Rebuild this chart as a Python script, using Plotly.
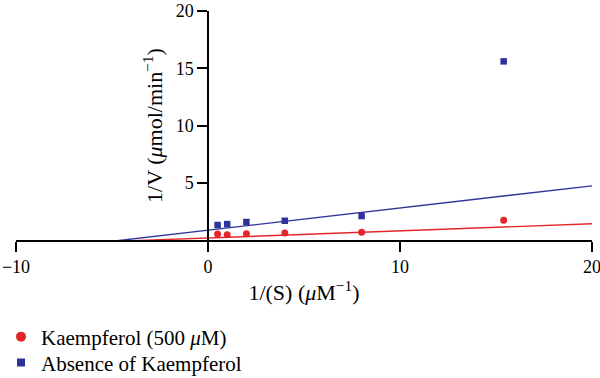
import plotly.graph_objects as go

# Data
s_inv = [0.5, 1, 2, 4, 8, 15.4]
v_inv_kaempferol = [0.52, 0.46, 0.55, 0.61, 0.67, 1.72]
v_inv_absence = [1.31, 1.39, 1.57, 1.68, 2.09, 15.6]

fit_x = [-5.3, 20]
fit_kaempferol = [-0.15, 1.42]
fit_absence = [-0.17, 4.73]

RED = "#e4262a"
BLUE = "#2e3399"
FONT = "Liberation Serif"

fig = go.Figure()
fig.add_trace(go.Scatter(x=fit_x, y=fit_kaempferol, mode="lines",
                         line=dict(color=RED, width=1.4), showlegend=False))
fig.add_trace(go.Scatter(x=fit_x, y=fit_absence, mode="lines",
                         line=dict(color=BLUE, width=1.4), showlegend=False))
fig.add_trace(go.Scatter(x=s_inv, y=v_inv_kaempferol, mode="markers",
                         marker=dict(color=RED, size=7, symbol="circle"), showlegend=False))
fig.add_trace(go.Scatter(x=s_inv, y=v_inv_absence, mode="markers",
                         marker=dict(color=BLUE, size=6.5, symbol="square"), showlegend=False))
# legend entries
fig.add_trace(go.Scatter(x=[None], y=[None], mode="markers", name="Kaempferol (500 <i>μ</i>M)",
                         marker=dict(color=RED, size=10, symbol="circle"), legend="legend"))
fig.add_trace(go.Scatter(x=[None], y=[None], mode="markers", name="Absence of Kaempferol",
                         marker=dict(color=BLUE, size=8, symbol="square"), legend="legend2"))

legend_style = dict(xanchor="left", yanchor="middle", bgcolor="rgba(0,0,0,0)",
                    font=dict(size=21, family=FONT, color="black"))

fig.update_layout(
    width=600, height=378,
    margin=dict(l=16, r=8, t=11, b=138, autoexpand=False),
    plot_bgcolor="white", paper_bgcolor="white",
    font=dict(family=FONT, size=18, color="black"),
    xaxis=dict(range=[-10, 20], tickvals=[-10, 0, 10, 20], ticktext=["−10", "0", "10", "20"],
               showline=True, linecolor="black", linewidth=1.5, automargin=False,
               ticklabeloverflow="allow",
               ticks="outside", ticklen=10, tickwidth=1.5, tickcolor="black",
               showgrid=False, zeroline=False,
               title=dict(text="1/(S) (<i>μ</i>M<sup>−1</sup>)", standoff=8)),
    yaxis=dict(range=[0, 20], tickvals=[5, 10, 15, 20], anchor="free", position=1/3,
               showline=True, linecolor="black", linewidth=1.5, automargin=False,
               ticklabeloverflow="allow",
               ticks="outside", ticklen=10, tickwidth=1.5, tickcolor="black",
               showgrid=False, zeroline=False,
               title=dict(text="1/V (<i>μ</i>mol/min<sup>−1</sup>)", standoff=6)),
    legend=dict(x=-0.026, y=-0.4236, **legend_style),
    legend2=dict(x=-0.026, y=-0.537, **legend_style),
)

fig.write_html("out.html", config={"displayModeBar": False},
               post_script="document.body.style.margin='0';")
